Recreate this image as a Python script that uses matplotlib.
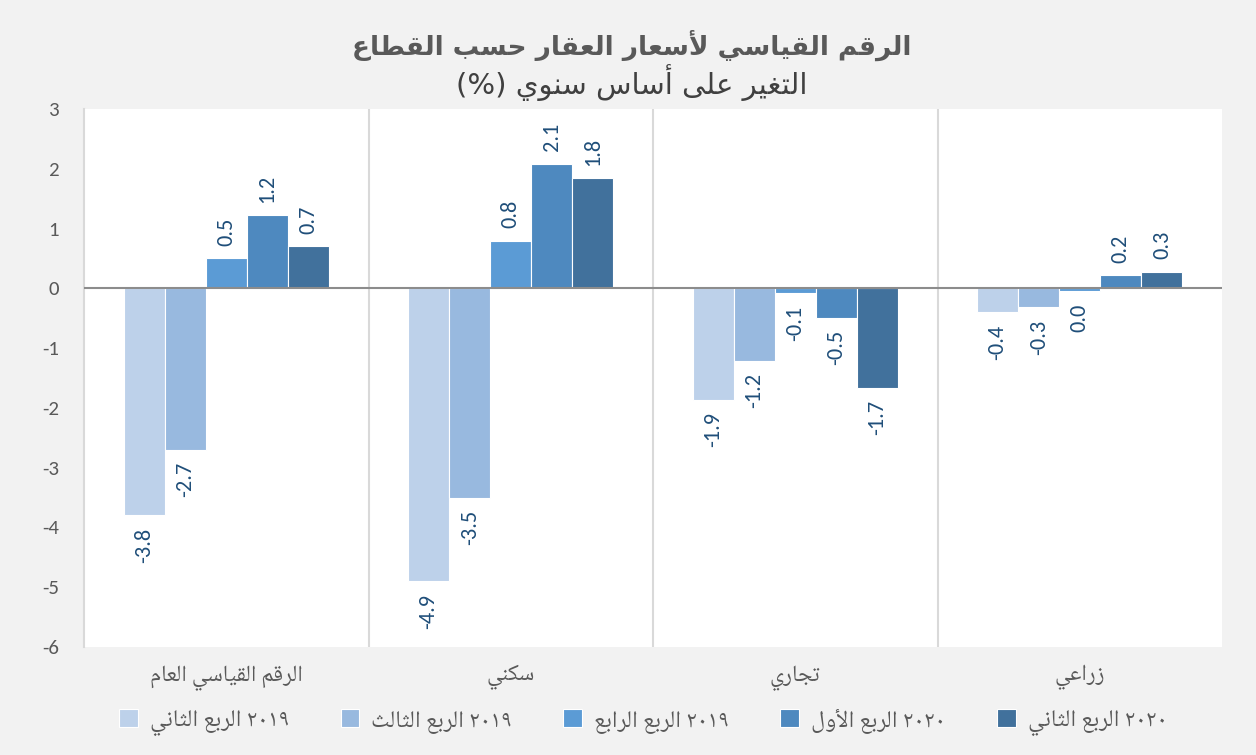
import re

import matplotlib
matplotlib.use("Agg")
import matplotlib.pyplot as plt
import numpy as np

# sectors (x-axis categories, left to right as drawn)
sectors = ["الرقم القياسي العام", "سكني", "تجاري", "زراعي"]

# quarters (legend order, left to right)
quarters = [
    "٢٠١٩ الربع الثاني",
    "٢٠١٩ الربع الثالث",
    "٢٠١٩ الربع الرابع",
    "٢٠٢٠ الربع الأول",
    "٢٠٢٠ الربع الثاني",
]

# annual change (%) per quarter, one value per sector
q2_2019 = [-3.8, -4.9, -1.86, -0.40]
q3_2019 = [-2.7, -3.5, -1.21, -0.32]
q4_2019 = [0.50, 0.80, -0.08, -0.04]
q1_2020 = [1.22, 2.08, -0.49, 0.22]
q2_2020 = [0.70, 1.84, -1.66, 0.28]
series = [q2_2019, q3_2019, q4_2019, q1_2020, q2_2020]

colors = ["#BDD1EA", "#98B9DF", "#5B9BD5", "#4E89BF", "#41719C"]

y_ticks = [3, 2, 1, 0, -1, -2, -3, -4, -5, -6]

title = "الرقم القياسي لأسعار العقار حسب القطاع"
subtitle = "التغير على أساس سنوي (%)"

BG = "#F2F2F2"
GREY_TXT = "#595959"
LABEL_C = "#1F4E79"
AR_FONT = ["Noto Naskh Arabic", "DejaVu Sans"]
TITLE_FONT = ["DejaVu Sans"]

# matplotlib draws glyphs one by one, left to right: join the Arabic letters
# into their presentation forms and put the string in visual order ourselves
FORMS = {  # letter -> (isolated form, number of forms)
    "ا": (0xFE8D, 2), "أ": (0xFE83, 2), "ب": (0xFE8F, 4), "ت": (0xFE95, 4),
    "ث": (0xFE99, 4), "ج": (0xFE9D, 4), "ح": (0xFEA1, 4), "ر": (0xFEAD, 2),
    "ز": (0xFEAF, 2), "س": (0xFEB1, 4), "ط": (0xFEC1, 4), "ع": (0xFEC9, 4),
    "غ": (0xFECD, 4), "ق": (0xFED5, 4), "ك": (0xFED9, 4), "ل": (0xFEDD, 4),
    "م": (0xFEE1, 4), "ن": (0xFEE5, 4), "و": (0xFEED, 2), "ى": (0xFEEF, 2),
    "ي": (0xFEF1, 4),
}
LAM_ALEF = {"ا": 0xFEFB, "أ": 0xFEF7}


def rtl(s):
    toks = []
    i = 0
    while i < len(s):
        c = s[i]
        if c == "ل" and i + 1 < len(s) and s[i + 1] in LAM_ALEF:
            toks.append((LAM_ALEF[s[i + 1]], 2))
            i += 2
            continue
        toks.append(FORMS.get(c, c))
        i += 1
    out = []
    for k, t in enumerate(toks):
        if isinstance(t, str):
            out.append(t)
            continue
        base, n = t
        prev = toks[k - 1] if k > 0 else None
        nxt = toks[k + 1] if k + 1 < len(toks) else None
        j_prev = isinstance(prev, tuple) and prev[1] == 4
        j_next = n == 4 and isinstance(nxt, tuple)
        if j_prev and j_next:
            out.append(chr(base + 3))
        elif j_prev:
            out.append(chr(base + 1))
        elif j_next:
            out.append(chr(base + 2))
        else:
            out.append(chr(base))
    parts = re.findall(r"[0-9٠-٩]+|.", "".join(out))[::-1]
    vis = "".join(parts)
    return vis.translate(str.maketrans("()", ")("))


fig = plt.figure(figsize=(12.56, 7.55), dpi=100, facecolor=BG)
ax = fig.add_axes([84 / 1256, 1 - 647 / 755, (1222 - 84) / 1256, (647 - 109) / 755])
ax.set_facecolor("white")

x = np.arange(len(sectors))
step = 0.1444
for i, (vals, col, lab) in enumerate(zip(series, colors, quarters)):
    pos = x + (i - 2) * step
    bars = ax.bar(pos, vals, step, color=col, edgecolor="white", linewidth=0.8,
                  label=rtl(lab), zorder=2)
    for b, v in zip(bars, vals):
        txt = f"{v:.1f}"
        if txt == "-0.0":
            txt = "0.0"
        ax.annotate(txt, (b.get_x() + b.get_width() / 2, v),
                    xytext=(0, 9 if v >= 0 else -9), textcoords="offset points",
                    rotation=90, ha="center", va="bottom" if v >= 0 else "top",
                    fontsize=16, color=LABEL_C, family="Carlito")

ax.axhline(0, color="#8C8C8C", linewidth=1.5, zorder=3)
for sep in [0.5, 1.5, 2.5]:
    ax.axvline(sep, color="#D9D9D9", linewidth=1.5, zorder=1)

ax.set_xlim(-0.5, 3.5)
ax.set_ylim(-6, 3)
ax.set_yticks(y_ticks)
ax.set_yticklabels([str(t) for t in y_ticks], family="Carlito", fontsize=15, color=GREY_TXT)
ax.set_xticks(x)
ax.set_xticklabels([rtl(s) for s in sectors], family=AR_FONT, fontsize=16.5, color=GREY_TXT)
ax.tick_params(axis="both", length=0)
ax.tick_params(axis="x", pad=13)
ax.tick_params(axis="y", pad=18)
for s in ["top", "right", "bottom"]:
    ax.spines[s].set_visible(False)
ax.spines["left"].set_color("#D9D9D9")
ax.spines["left"].set_linewidth(1.5)

fig.text(0.503, 1 - 45 / 755, rtl(title), ha="center", va="center", fontsize=19,
         fontweight="bold", color=GREY_TXT, family=TITLE_FONT)
fig.text(0.503, 1 - 83 / 755, rtl(subtitle), ha="center", va="center", fontsize=21,
         color="#404040", family=TITLE_FONT)

fig.legend(loc="center", bbox_to_anchor=(98 / 1256, 1 - 742 / 755, 1090 / 1256, 40 / 755),
           mode="expand", ncol=5, frameon=False,
           handlelength=0.8, handleheight=0.8, handletextpad=0.5,
           prop={"family": AR_FONT, "size": 17}, labelcolor=GREY_TXT)

fig.savefig("out.png", dpi=100, facecolor=BG)
